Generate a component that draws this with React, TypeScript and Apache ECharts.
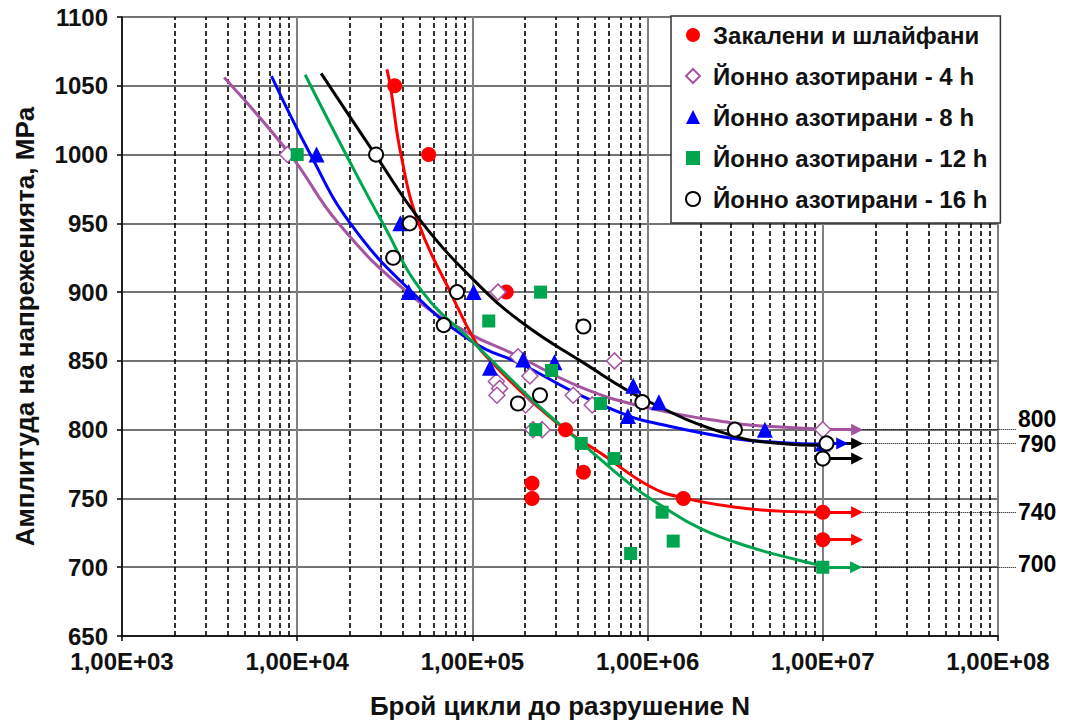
import React, { useEffect, useRef } from "react";
import * as echarts from "echarts";

const FONT = "'Liberation Sans', Arial, Helvetica, sans-serif";

const seriesNames = [
  "Закалени и шлайфани",
  "Йонно азотирани - 4 h",
  "Йонно азотирани - 8 h",
  "Йонно азотирани - 12 h",
  "Йонно азотирани - 16 h",
];
const colors = ["#FF0000", "#A5559F", "#0000FF", "#00A550", "#000000"];

const xAxisName = "Брой цикли до разрушение N";
const yAxisName = "Амплитуда на напреженията, MPa";

// measured points [N, stress MPa]
const hardenedPts: [number, number][] = [
  [36000, 1050], [56300, 1000], [156000, 900], [219000, 761], [219000, 750],
  [340000, 800], [430000, 769], [1600000, 750], [10000000, 740], [10000000, 720],
];
const nit4Pts: [number, number][] = [
  [8800, 1000], [140000, 900], [182000, 853], [137000, 835], [143000, 830],
  [138000, 825], [213000, 839], [201000, 818], [222000, 800], [250000, 800],
  [376000, 825], [483000, 818], [647000, 850], [10000000, 800],
];
const nit8Pts: [number, number][] = [
  [12900, 1000], [38800, 950], [43300, 900], [101600, 900], [126000, 845],
  [195000, 851], [294000, 849], [828000, 832], [772000, 810], [1160000, 820],
  [4670000, 800], [10000000, 790],
];
const nit12Pts: [number, number][] = [
  [10000, 1000], [124000, 879], [245000, 900], [283000, 843], [230000, 800],
  [539000, 819], [418000, 790], [643000, 779], [1210000, 740], [1400000, 719],
  [800000, 710], [10000000, 700],
];
const nit16Pts: [number, number][] = [
  [28200, 1000], [35300, 925], [43900, 950], [81700, 900], [68600, 876],
  [182000, 819], [243000, 825], [430000, 875], [933000, 820], [3150000, 800],
  [10500000, 790], [10000000, 779],
];

// trend curves [N, stress MPa]
const hardenedCurve: [number, number][] = [
  [32500, 1062], [34000, 1050], [39100, 1000], [49300, 950], [74800, 900],
  [106000, 862], [127000, 850], [200000, 825], [340000, 800], [538000, 783],
  [1040000, 758.5], [1600000, 750.4], [3100000, 743.8], [5980000, 740.6], [10000000, 740],
];
const nit4Curve: [number, number][] = [
  [3830, 1056], [9120, 1000], [17200, 950], [42400, 900], [95500, 870],
  [172000, 855], [414000, 831], [993000, 816], [2980000, 805], [4830000, 802.5],
  [10000000, 800.5],
];
const nit8Curve: [number, number][] = [
  [7130, 1057], [11900, 1000], [20100, 950], [45200, 900], [100000, 864],
  [195000, 847], [398000, 826], [776000, 810], [1000000, 806], [2950000, 794],
  [5900000, 790.5], [10000000, 789.5],
];
const nit12Curve: [number, number][] = [
  [11100, 1058], [19000, 1000], [30800, 950], [52000, 900], [104000, 862],
  [171000, 835], [245000, 816], [414000, 791], [800000, 760], [1190000, 745],
  [2010000, 728], [3880000, 714.5], [7480000, 704.7], [10000000, 701],
];
const nit16Curve: [number, number][] = [
  [13700, 1059], [27900, 1000], [52000, 950], [111000, 904], [196000, 877],
  [414000, 850], [993000, 821], [2980000, 796], [5750000, 790], [10000000, 788.6],
];

// run-out arrows: level, colour index, start N, tip N
const arrowLevels: number[] = [790, 779, 790, 800, 740, 720, 700];
const arrowColorIdx: number[] = [4, 4, 2, 1, 0, 0, 3];
const arrowStartN: number[] = [10500000, 10000000, 10000000, 10000000, 10000000, 10000000, 10000000];
const arrowTipN: number[] = [15700000, 15700000, 12900000, 15700000, 15700000, 15700000, 15500000];

// endurance limits labelled on the right
const limitLevels: number[] = [800, 790, 740, 700];
const limitLabels: string[] = ["800", "790", "740", "700"];
// level at which each label text is centred (800 is lifted clear of 790)
const limitLabelLevels: number[] = [807.5, 789.5, 740, 702];
const limitStartN = 16900000;

const minorGridX: number[] = [];
for (let e = 3; e < 8; e++) {
  for (let m = 2; m <= 9; m++) minorGridX.push(m * Math.pow(10, e));
}

const formatExp = (v: number) => {
  const e = Math.round(Math.log10(v));
  return `1,00E+${e < 10 ? "0" + e : e}`;
};

const scatterData = [hardenedPts, nit4Pts, nit8Pts, nit12Pts, nit16Pts];
const curveData = [hardenedCurve, nit4Curve, nit8Curve, nit12Curve, nit16Curve];
const symbols = ["circle", "diamond", "triangle", "rect", "circle"];
const symbolSizes = [15, 16, 16, 13, 14];

export default function App() {
  const ref = useRef<HTMLDivElement>(null);

  useEffect(() => {
    if (!ref.current) return;
    const chart = echarts.init(ref.current, null, { renderer: "svg" });

    const curveOrder = [1, 2, 0, 3, 4];
    const curveSeries = curveOrder.map((i) => ({
      type: "line",
      name: "curve" + i,
      data: curveData[i],
      smooth: 0.45,
      symbol: "none",
      silent: true,
      lineStyle: { color: colors[i], width: 3 },
      z: 3,
    }));

    const annotationLines: any[] = [];
    arrowLevels.forEach((lv, k) => {
      const c = colors[arrowColorIdx[k]];
      annotationLines.push([
        { coord: [arrowStartN[k], lv], symbol: "none", lineStyle: { color: c, width: 3, type: "solid" } },
        { coord: [arrowTipN[k], lv], symbol: "triangle", symbolSize: [12, 12] },
      ]);
    });
    limitLevels.forEach((lv) => {
      annotationLines.push([
        { coord: [limitStartN, lv], symbol: "none", lineStyle: { color: "#000", width: 1, type: "dotted" } },
        { coord: [1e8, lv], x: 1016, symbol: "none" },
      ]);
    });
    limitLabelLevels.forEach((lv, k) => {
      annotationLines.push([
        {
          coord: [limitStartN, lv],
          symbol: "none",
          lineStyle: { color: "rgba(255,255,255,0)", width: 1, type: "solid" },
          label: {
            show: true,
            position: "end",
            distance: 2,
            formatter: limitLabels[k],
            color: "#000",
            fontSize: 23,
            lineHeight: 22,
            fontWeight: "bold",
            fontFamily: FONT,
          },
        },
        { coord: [1e8, lv], x: 1016, symbol: "none" },
      ]);
    });

    const option: any = {
      animation: false,
      backgroundColor: "#fff",
      textStyle: { fontFamily: FONT },
      grid: { left: 122, right: 77, top: 17, bottom: 88 },
      legend: {
        data: seriesNames,
        orient: "vertical",
        left: 671,
        top: 16,
        z: 10,
        padding: [7, 13, 12, 14],
        itemGap: 17,
        itemWidth: 14,
        itemHeight: 14,
        backgroundColor: "#fff",
        borderColor: "#333",
        borderWidth: 1.5,
        selectedMode: false,
        textStyle: {
          fontSize: 24,
          lineHeight: 24,
          fontWeight: "bold",
          color: "#111",
          fontFamily: FONT,
          padding: [0, 0, 0, 8],
        },
      },
      xAxis: {
        type: "log",
        logBase: 10,
        min: 1e3,
        max: 1e8,
        name: xAxisName,
        nameLocation: "middle",
        nameGap: 57,
        nameTextStyle: { fontSize: 26, fontWeight: "bold", color: "#111", fontFamily: FONT },
        axisLine: { onZero: false, lineStyle: { color: "#000", width: 1.5 } },
        axisTick: { show: true, length: 5, lineStyle: { color: "#000", width: 1.5 } },
        axisLabel: {
          formatter: formatExp,
          fontSize: 24,
          fontWeight: "bold",
          color: "#111",
          margin: 13,
          fontFamily: FONT,
        },
        splitLine: { show: true, lineStyle: { color: "#808080", width: 2 } },
      },
      yAxis: {
        type: "value",
        min: 650,
        max: 1100,
        interval: 50,
        name: yAxisName,
        nameLocation: "middle",
        nameGap: 84,
        nameTextStyle: { fontSize: 26, fontWeight: "bold", color: "#111", fontFamily: FONT },
        axisLine: { show: true, onZero: false, lineStyle: { color: "#000", width: 1.5 } },
        axisTick: { show: true, length: 5, lineStyle: { color: "#000", width: 1.5 } },
        axisLabel: {
          formatter: (v: number) => String(v),
          fontSize: 24,
          fontWeight: "bold",
          color: "#111",
          margin: 14,
          fontFamily: FONT,
        },
        splitLine: { show: true, lineStyle: { color: "#444", width: 1.5 } },
      },
      series: [
        {
          type: "line",
          name: "minorGrid",
          data: [],
          silent: true,
          z: 1,
          markLine: {
            silent: true,
            z: 1,
            symbol: ["none", "none"],
            label: { show: false },
            lineStyle: { color: "#000", width: 1.6, type: [5, 3] },
            data: minorGridX.map((v) => ({ xAxis: v })),
          },
        },
        ...curveSeries,
        {
          type: "line",
          name: "annotations",
          data: [],
          silent: true,
          z: 4,
          markLine: {
            silent: true,
            z: 4,
            symbol: ["none", "none"],
            label: { show: false },
            data: annotationLines,
          },
        },
        ...scatterData.map((d, i) => ({
          type: "scatter",
          name: seriesNames[i],
          data: d,
          symbol: symbols[i],
          symbolSize: symbolSizes[i],
          itemStyle:
            i === 1
              ? { color: "#fff", borderColor: colors[1], borderWidth: 1.5, opacity: 1 }
              : i === 4
              ? { color: "#fff", borderColor: "#000", borderWidth: 2, opacity: 1 }
              : { color: colors[i], opacity: 1 },
          z: 5,
        })),
      ],
    };

    chart.setOption(option);
    return () => chart.dispose();
  }, []);

  return (
    <div
      ref={ref}
      style={{ position: "absolute", left: 0, top: 0, width: 1075, height: 724, background: "#fff" }}
    />
  );
}
